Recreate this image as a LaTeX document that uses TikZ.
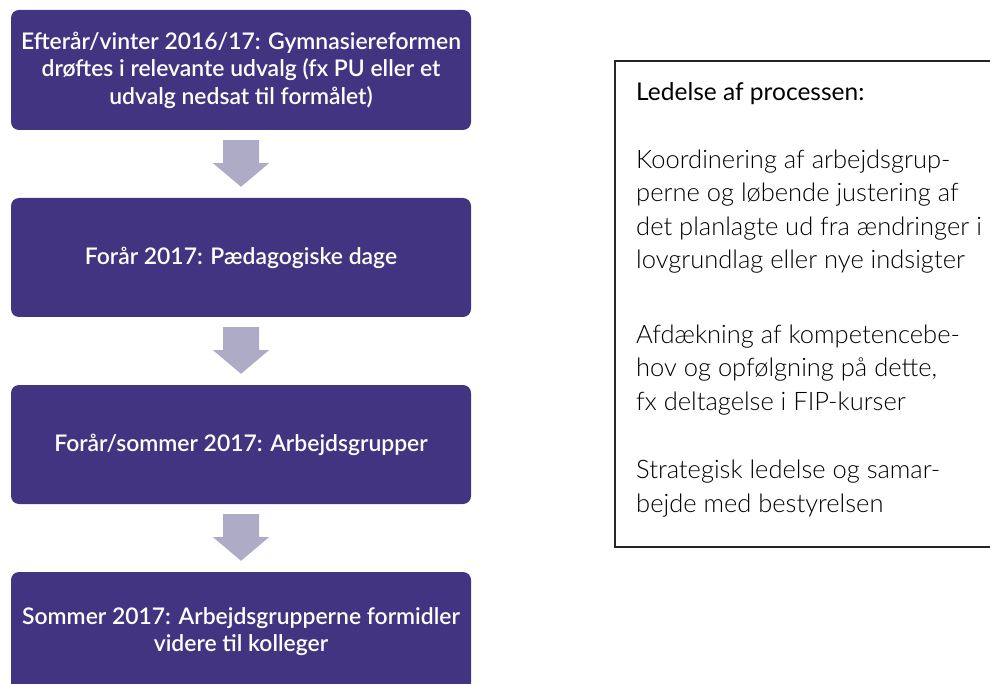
\documentclass[tikz,border=0pt]{standalone}
\usepackage{fontspec}
\newfontfamily\boxfont{Lato Semibold}
\newfontfamily\headfont{Lato}
\newfontfamily\bodyfont{Lato Light}
\usetikzlibrary{calc}
\definecolor{purp}{RGB}{66,52,128}
\definecolor{arrowc}{RGB}{174,171,199}
\newcommand\flowarrow[2]{%
  \fill[arrowc] ($(#1.south)+(-18,10)$) -- ($(#1.south)+(18,10)$) -- ($(#1.south)+(18,33)$)
    -- ($(#1.south)+(28,33)$) -- ($(#2.north)+(0,-11)$) -- ($(#1.south)+(-28,33)$)
    -- ($(#1.south)+(-18,33)$) -- cycle;}
\begin{document}
\begin{tikzpicture}[x=1pt,y=-1pt,
  stagebox/.style={fill=purp, rounded corners=8pt, minimum width=460pt, minimum height=120pt,
    inner sep=0pt, text=white, align=center, font=\boxfont\fontsize{22.9}{27.5}\selectfont},
  panelbox/.style={draw=black!85, line width=1.3pt, minimum width=380pt, minimum height=486pt, inner sep=0pt},
  headtext/.style={anchor=base west, inner sep=0pt, font=\headfont\fontsize{24.5}{31}\selectfont},
  bodytext/.style={anchor=base west, inner sep=0pt, align=left, text=black, font=\bodyfont\fontsize{25.5}{33.5}\selectfont}]
\useasboundingbox (0,0) rectangle (990,684);
\clip (0,0) rectangle (990,684);
\node[stagebox] (b1) at (241,70) {Efterår/vinter 2016/17: Gymnasiereformen\\drøftes i relevante udvalg (fx PU eller et\\udvalg nedsat til formålet)};
\node[stagebox, minimum height=119pt] (b2) at (241,257.5) {Forår 2017: Pædagogiske dage};
\node[stagebox, minimum height=119pt] (b3) at (241,444.5) {Forår/sommer 2017: Arbejdsgrupper};
\node[stagebox, minimum height=119pt] (b4) at (241,631.5) {Sommer 2017: Arbejdsgrupperne formidler\\videre til kolleger};
\flowarrow{b1}{b2}
\flowarrow{b2}{b3}
\flowarrow{b3}{b4}
\node[panelbox] (panel) at (805,304) {};
\node[headtext] (head) at (636,101) {Ledelse af processen:};
\node[bodytext] (p1) at (636,269) {Koordinering af arbejdsgrup-\\perne og løbende justering af\\det planlagte ud fra ændringer i\\lovgrundlag eller nye indsigter};
\node[bodytext] (p2) at (636,410) {Afdækning af kompetencebe-\\hov og opfølgning på dette,\\fx deltagelse i FIP-kurser};
\node[bodytext] (p3) at (636,512) {Strategisk ledelse og samar-\\bejde med bestyrelsen};
\end{tikzpicture}
\end{document}
